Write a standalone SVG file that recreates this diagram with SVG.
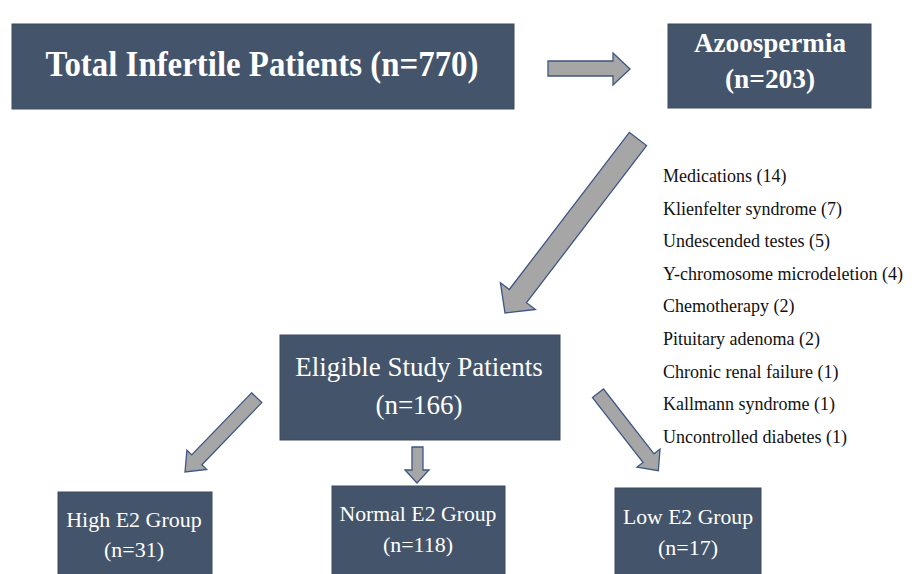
<svg xmlns="http://www.w3.org/2000/svg" width="915" height="574" viewBox="0 0 915 574">
<style>
.box{fill:#44546a;stroke:#3c4b60;stroke-width:1}
.arrow{fill:#a6a6a6;stroke:#3e5683;stroke-width:1.3;stroke-linejoin:miter}
.wb{font-family:"Liberation Serif",serif;font-weight:bold;fill:#ffffff;text-anchor:middle}
.w{font-family:"Liberation Serif",serif;fill:#ffffff;text-anchor:middle}
.lst{font-family:"Liberation Serif",serif;font-size:18px;fill:#111111}
</style>
<rect width="915" height="574" fill="#ffffff"/>
<g id="total">
<rect class="box" x="12" y="24" width="502" height="85"/>
<text class="wb" x="262" y="76" font-size="36" textLength="433" lengthAdjust="spacingAndGlyphs">Total Infertile  Patients (n=770)</text>
</g>
<g id="azoospermia">
<rect class="box" x="668" y="24" width="203" height="84"/>
<text class="wb" x="770" y="52" font-size="27" textLength="152" lengthAdjust="spacingAndGlyphs">Azoospermia</text>
<text class="wb" x="770" y="88" font-size="27" textLength="90" lengthAdjust="spacingAndGlyphs">(n=203)</text>
</g>
<g id="exclusions">
<text class="lst" x="663" y="182">Medications (14)</text>
<text class="lst" x="663" y="214.6">Klienfelter  syndrome (7)</text>
<text class="lst" x="663" y="247.2">Undescended testes (5)</text>
<text class="lst" x="663" y="279.8">Y-chromosome microdeletion (4)</text>
<text class="lst" x="663" y="312.4">Chemotherapy (2)</text>
<text class="lst" x="663" y="345">Pituitary  adenoma (2)</text>
<text class="lst" x="663" y="377.6">Chronic renal failure (1)</text>
<text class="lst" x="663" y="410.2">Kallmann  syndrome (1)</text>
<text class="lst" x="663" y="442.8">Uncontrolled diabetes (1)</text>
</g>
<g id="eligible">
<rect class="box" x="280" y="335" width="280" height="105"/>
<text class="w" x="419" y="376" font-size="27">Eligible Study Patients</text>
<text class="w" x="419" y="414" font-size="27">(n=166)</text>
</g>
<g id="high">
<rect class="box" x="58" y="492" width="154" height="90"/>
<text class="w" x="134" y="527" font-size="22">High E2 Group</text>
<text class="w" x="134" y="557" font-size="22">(n=31)</text>
</g>
<g id="normal">
<rect class="box" x="332" y="486" width="173" height="96"/>
<text class="w" x="418" y="521" font-size="21" textLength="157" lengthAdjust="spacingAndGlyphs">Normal E2 Group</text>
<text class="w" x="418" y="552" font-size="22">(n=118)</text>
</g>
<g id="low">
<rect class="box" x="615" y="488" width="146" height="94"/>
<text class="w" x="688" y="524" font-size="22" textLength="130" lengthAdjust="spacingAndGlyphs">Low E2 Group</text>
<text class="w" x="688" y="555" font-size="22">(n=17)</text>
</g>
<g id="connectors">
<polygon class="arrow" points="548,61 613,61 613,53 630,69 613,85 613,76 548,76"/>
<polygon class="arrow" points="629.4,132.4 646.6,145.6 526.5,302.7 535.4,309.5 505,313 500.4,282.7 509.3,289.5"/>
<polygon class="arrow" points="251.6,392.8 261.8,402.6 201.9,464.7 206.7,469.4 185,472 186.9,450.2 191.7,454.9"/>
<polygon class="arrow" points="412,447 423,447 423,470 429,470 417,483 405,470 412,470"/>
<polygon class="arrow" points="592.5,397.6 603.5,389 654,453.8 660,449.1 658.3,470.7 637,467.1 643,462.4"/>
</g>
</svg>
